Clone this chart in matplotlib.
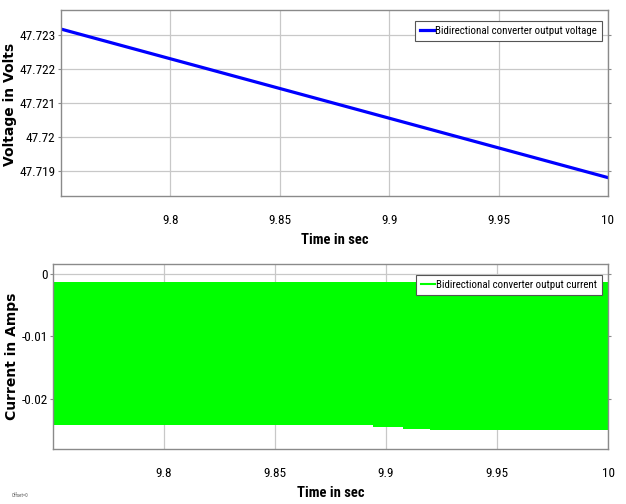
import matplotlib
matplotlib.use("Agg")
import matplotlib.pyplot as plt
from matplotlib.lines import Line2D
from matplotlib import font_manager

# ---- data ----
volt_time = [9.75, 10.0]
volt_values = [47.72318, 47.71882]

cur_time = [9.75, 9.894, 9.894, 9.9076, 9.9076, 9.9198, 9.9198, 10.0]
cur_upper = [-0.00133, -0.00133, -0.00133, -0.00133, -0.00133, -0.00133, -0.00133, -0.00133]
cur_lower = [-0.02424, -0.02424, -0.02464, -0.02464, -0.02488, -0.02488, -0.02512, -0.02512]

x_ticks = [9.8, 9.85, 9.9, 9.95, 10.0]
x_ticklabels = ["9.8", "9.85", "9.9", "9.95", "10"]
v_ticks = [47.719, 47.72, 47.721, 47.722, 47.723]
v_ticklabels = ["47.719", "47.72", "47.721", "47.722", "47.723"]
c_ticks = [-0.02, -0.01, 0.0]
c_ticklabels = ["-0.02", "-0.01", "0"]

# pick a narrow font if one is installed
entries = font_manager.fontManager.ttflist
names = {f.name for f in entries}
narrow_fp = None
for cand in ["Liberation Sans Narrow", "Roboto Condensed", "Open Sans Condensed",
             "Noto Sans Condensed", "DejaVu Sans Condensed"]:
    if cand in names:
        narrow_fp = cand
        break
fam = ([narrow_fp] if narrow_fp else []) + ["DejaVu Sans"]
small = 0 if narrow_fp else -1.5

plt.rcParams["font.family"] = fam

fig = plt.figure(figsize=(6.26, 5.04), dpi=100)
ax1 = fig.add_axes([0.0974, 0.6111, 0.8738, 0.3691])
ax2 = fig.add_axes([0.0847, 0.1091, 0.8866, 0.3671])

frame_col = "#8a8a8a"
grid_col = "#c8c8c8"

for ax in (ax1, ax2):
    ax.set_xlim(9.75, 10.0)
    ax.set_xticks(x_ticks)
    ax.set_xticklabels(x_ticklabels)
    ax.grid(True, color=grid_col, linewidth=0.9)
    ax.set_axisbelow(True)
    for s in ax.spines.values():
        s.set_color(frame_col)
        s.set_linewidth(1.0)
    ax.tick_params(axis="both", colors=frame_col, labelcolor="black",
                   labelsize=9.5 + small, length=0, pad=13)
    ax.tick_params(axis="y", pad=2, right=True, length=2, direction="out")
    ax.set_xlabel("Time in sec", fontsize=10.5 + small, fontweight="bold", labelpad=4)

ylab_font = dict(fontsize=10, fontweight="bold", family=["DejaVu Sans"])
leg_kw = dict(loc="upper right", fontsize=7.8 + small * 0.6, frameon=True,
              fancybox=False, handlelength=1.3, handletextpad=0.1,
              borderpad=0.45, borderaxespad=0.0, framealpha=1)

# top voltage
ax1.plot(volt_time, volt_values, color="#0000ff", linewidth=2.3,
         label="Bidirectional converter output voltage")
ax1.set_ylim(47.71828, 47.72374)
ax1.set_yticks(v_ticks)
ax1.set_yticklabels(v_ticklabels)
ax1.set_ylabel("Voltage in Volts", **ylab_font)
ax1.yaxis.set_label_coords(-0.08, 0.49)
leg1 = ax1.legend(bbox_to_anchor=(0.989, 0.941), **leg_kw)
leg1.get_frame().set_edgecolor("#555555")
leg1.get_frame().set_linewidth(0.8)

# bottom current
ax2.fill_between(cur_time, cur_lower, cur_upper, color="#00ff00", linewidth=0)
ax2.set_ylim(-0.0281, 0.0016)
ax2.set_yticks(c_ticks)
ax2.set_yticklabels(c_ticklabels)
ax2.set_ylabel("Current in Amps", **ylab_font)
ax2.yaxis.set_label_coords(-0.062, 0.5)
handle = Line2D([], [], color="#00ff00", linewidth=1.5)
leg2 = ax2.legend([handle], ["Bidirectional converter output current"],
                  bbox_to_anchor=(0.989, 0.9405), **leg_kw)
leg2.get_frame().set_edgecolor("#555555")
leg2.get_frame().set_linewidth(0.8)

fig.text(0.018, 0.013, "Offset=0", fontsize=3.5, color="#555555")

fig.savefig("out.png", dpi=100)
